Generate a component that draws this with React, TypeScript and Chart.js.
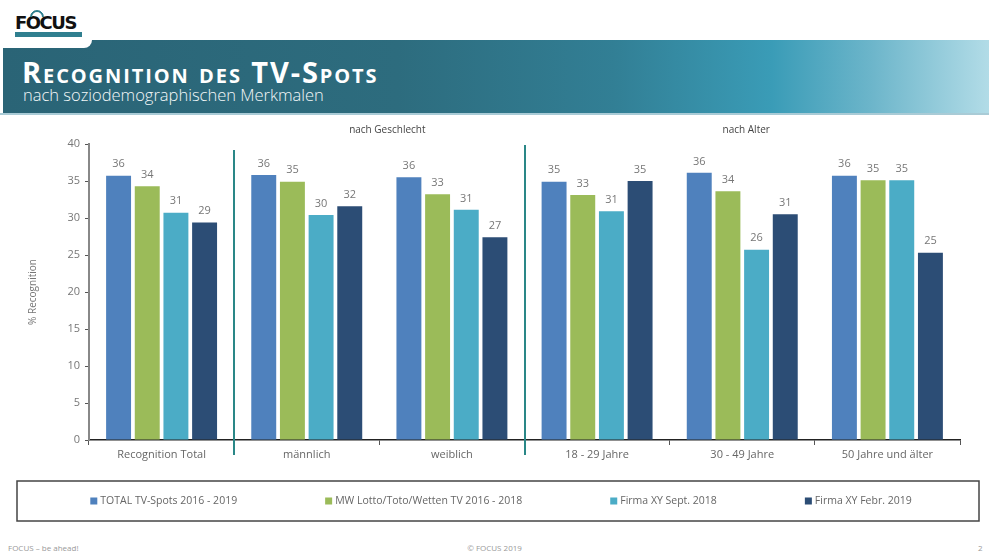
import React, { useEffect, useRef } from "react";
import { Chart, registerables } from "chart.js";

Chart.register(...registerables);

const categories = [
  "Recognition Total",
  "männlich",
  "weiblich",
  "18 - 29 Jahre",
  "30 - 49 Jahre",
  "50 Jahre und älter",
];
const seriesNames = [
  "TOTAL TV-Spots 2016 - 2019",
  "MW Lotto/Toto/Wetten TV 2016 - 2018",
  "Firma XY Sept. 2018",
  "Firma XY Febr. 2019",
];
const totalSpots = [35.7, 35.8, 35.5, 34.9, 36.1, 35.7];
const mwLotto = [34.3, 34.9, 33.2, 33.1, 33.6, 35.1];
const firmaSept = [30.7, 30.4, 31.1, 30.9, 25.7, 35.1];
const firmaFebr = [29.4, 31.6, 27.4, 35.0, 30.5, 25.3];
const seriesColors = ["#4f81bd", "#9bbb59", "#4bacc6", "#2c4d75"];
const yMin = 0;
const yMax = 40;
const yStep = 5;
const groupTitles = ["nach Geschlecht", "nach Alter"];
const groupStart = [1, 3];
const groupEnd = [2, 5];

const FONT = "'Open Sans', 'DejaVu Sans', sans-serif";

const overlayPlugin = {
  id: "overlay",
  afterDatasetsDraw(chart: any) {
    const ctx = chart.ctx;
    ctx.save();
    ctx.font = `11px ${FONT}`;
    ctx.fillStyle = "#777";
    ctx.textAlign = "center";
    ctx.textBaseline = "bottom";
    chart.data.datasets.forEach((ds: any, i: number) => {
      const meta = chart.getDatasetMeta(i);
      meta.data.forEach((bar: any, j: number) => {
        ctx.fillText(String(Math.round(ds.data[j])), bar.x, bar.y - 6);
      });
    });
    ctx.restore();
  },
  afterDraw(chart: any) {
    const ctx = chart.ctx;
    const x = chart.scales.x;
    const area = chart.chartArea;
    ctx.save();
    groupTitles.forEach((t: string, g: number) => {
      const s = groupStart[g];
      const e = groupEnd[g];
      const sep = (x.getPixelForValue(s - 1) + x.getPixelForValue(s)) / 2;
      ctx.strokeStyle = "#2a8787";
      ctx.lineWidth = 2;
      ctx.beginPath();
      ctx.moveTo(Math.round(sep), area.top + (g === 0 ? 6 : 1));
      ctx.lineTo(Math.round(sep), area.bottom + 15);
      ctx.stroke();
      const cx = (x.getPixelForValue(s) + x.getPixelForValue(e)) / 2;
      ctx.font = `10px ${FONT}`;
      ctx.fillStyle = "#444";
      ctx.textAlign = "center";
      ctx.textBaseline = "middle";
      ctx.fillText(t, cx + (g === 0 ? 8 : 4), area.top - 14);
    });
    const boxL = 17, boxR = 979, boxT = 366, boxB = 406;
    ctx.strokeStyle = "#444";
    ctx.lineWidth = 1.5;
    ctx.strokeRect(boxL, boxT, boxR - boxL, boxB - boxT);
    ctx.font = `10.5px ${FONT}`;
    const gap = 88;
    const mk = 7;
    const widths = chart.data.datasets.map((ds: any) => mk + 3 + ctx.measureText(ds.label).width);
    const total = widths.reduce((a: number, b: number) => a + b, 0) + gap * (widths.length - 1);
    let cx = (boxL + boxR) / 2 + 3 - total / 2;
    const cy = (boxT + boxB) / 2;
    chart.data.datasets.forEach((ds: any, i: number) => {
      ctx.fillStyle = ds.backgroundColor;
      ctx.fillRect(cx, cy - mk / 2, mk, mk);
      ctx.fillStyle = "#666";
      ctx.textAlign = "left";
      ctx.textBaseline = "middle";
      ctx.fillText(ds.label, cx + mk + 3, cy);
      cx += widths[i] + gap;
    });
    ctx.restore();
  },
};

export default function App() {
  const ref = useRef<HTMLCanvasElement | null>(null);
  useEffect(() => {
    if (!ref.current) return;
    const series = [totalSpots, mwLotto, firmaSept, firmaFebr];
    const chart = new Chart(ref.current, {
      type: "bar",
      data: {
        labels: categories,
        datasets: series.map((d, i) => ({
          label: seriesNames[i],
          data: d,
          backgroundColor: seriesColors[i],
          categoryPercentage: 0.79,
          barPercentage: 0.87,
        })),
      },
      options: {
        responsive: false,
        animation: false,
        layout: { padding: { left: 0, right: 29, top: 29, bottom: 60 } },
        plugins: {
          legend: { display: false },
          tooltip: { enabled: false },
        },
        scales: {
          x: {
            grid: {
              display: true,
              drawOnChartArea: false,
              drawTicks: true,
              tickLength: 5,
              color: "#555",
              offset: true,
            },
            border: { display: true, color: "#222", width: 1.5 },
            ticks: {
              color: "#666",
              font: { family: FONT, size: 11 },
              padding: 3,
              maxRotation: 0,
            },
            afterFit: (s: any) => {
              s.height = 30;
            },
          },
          y: {
            min: yMin,
            max: yMax,
            ticks: {
              stepSize: yStep,
              color: "#777",
              font: { family: FONT, size: 11 },
              padding: 5,
            },
            grid: {
              display: true,
              drawOnChartArea: false,
              drawTicks: true,
              tickLength: 4,
              color: "#555",
            },
            border: { display: true, color: "#888", width: 2 },
            title: {
              display: true,
              text: "% Recognition",
              color: "#777",
              font: { family: FONT, size: 10 },
              padding: { top: 27, bottom: 0 },
            },
            afterFit: (s: any) => {
              s.width = 89;
            },
          },
        },
      },
      plugins: [overlayPlugin],
    });
    return () => chart.destroy();
  }, []);

  return (
    <div
      style={{
        position: "fixed",
        left: 0,
        top: 0,
        width: 989,
        height: 553,
        background: "#fff",
        overflow: "hidden",
        fontFamily: FONT,
      }}
    >
      <div
        style={{
          position: "absolute",
          left: 3,
          top: 40,
          width: 986,
          height: 73,
          background:
            "linear-gradient(90deg, #2a6476 0%, #2d6c7e 40%, #327f95 62%, #3a9cb7 78%, #6cb5ca 88%, #b2dce7 100%)",
        }}
      />
      <div style={{ position: "absolute", left: 0, top: 113, width: 989, height: 2, background: "#a9cbd6" }} />
      <div
        style={{
          position: "absolute",
          left: 0,
          top: 38,
          width: 92,
          height: 10,
          background: "#fff",
          borderBottomRightRadius: 8,
        }}
      />
      <div
        style={{
          position: "absolute",
          left: 15,
          top: 13,
          width: 67,
          height: 20,
          fontFamily: "'DejaVu Sans', sans-serif",
          fontWeight: 900,
          fontSize: 18,
          letterSpacing: -1.5,
          lineHeight: "20px",
          color: "#111",
        }}
      >
        FOCUS
      </div>
      <div style={{ position: "absolute", left: 15, top: 32, width: 67, height: 5, background: "#2f7f8f" }} />
      <div
        style={{
          position: "absolute",
          left: 30,
          top: 10,
          width: 10,
          height: 10,
          border: "2px solid #2f7f8f",
          borderRadius: "50%",
          borderBottomColor: "transparent",
          borderLeftColor: "transparent",
          transform: "rotate(-45deg)",
        }}
      />
      <div
        style={{
          position: "absolute",
          left: 22,
          top: 57,
          fontSize: 29,
          lineHeight: 1,
          fontWeight: 700,
          letterSpacing: 1.9,
          fontVariant: "small-caps",
          color: "#fff",
          whiteSpace: "nowrap",
        }}
      >
        Recognition des TV-Spots
      </div>
      <div
        style={{
          position: "absolute",
          left: 23,
          top: 87,
          fontSize: 16.5,
          lineHeight: 1,
          fontWeight: 300,
          color: "#f4f8f9",
          whiteSpace: "nowrap",
        }}
      >
        nach soziodemographischen Merkmalen
      </div>
      <canvas
        ref={ref}
        width={989}
        height={415}
        style={{ position: "absolute", left: 0, top: 115, width: 989, height: 415 }}
      />
      <div style={{ position: "absolute", left: 8, top: 542, fontSize: 8, color: "#999", whiteSpace: "nowrap" }}>
        FOCUS – be ahead!
      </div>
      <div
        style={{
          position: "absolute",
          left: 0,
          width: 989,
          textAlign: "center",
          top: 542,
          fontSize: 8,
          color: "#999",
        }}
      >
        © FOCUS 2019
      </div>
      <div style={{ position: "absolute", left: 978, top: 542, fontSize: 8, color: "#999" }}>2</div>
    </div>
  );
}
